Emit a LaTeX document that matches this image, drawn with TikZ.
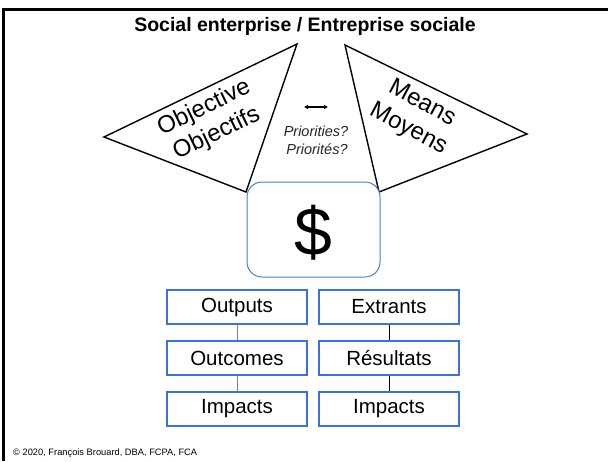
\documentclass[tikz,border=0pt]{standalone}
\usepackage{fontspec}
\setmainfont{Liberation Sans}
\usetikzlibrary{arrows.meta}
\definecolor{boxblue}{HTML}{3B6FE4}
\definecolor{dollarblue}{HTML}{4A7FD8}
\tikzset{
  tri/.style={draw=black, line width=1.4pt, line join=miter},
  outbox/.style={draw=boxblue, line width=2.6pt, minimum width=140pt, minimum height=34pt, inner sep=0pt, font=\fontsize{20.5}{24}\selectfont},
  trilabel/.style={align=center, inner sep=0pt, font=\fontsize{24}{28}\selectfont},
  prio/.style={inner sep=0pt, font=\fontsize{14.5}{17}\selectfont\itshape, text=black!85},
}
\begin{document}
\begin{tikzpicture}[x=1pt, y=-1pt]
\useasboundingbox[fill=white] (0,0) rectangle (608,461);
% frame
\coordinate (fTR) at (608,9.5);
\coordinate (fTL) at (3.5,9.5);
\coordinate (fBL) at (3.5,461);
\draw[line width=2.2pt, line join=miter] (fTR) -- (fTL) -- (fBL);
% title
\node[inner sep=0pt, font=\fontsize{19.5}{23}\selectfont\bfseries] (title) at (305,26) {Social enterprise / Entreprise sociale};
% triangles
\coordinate (lt) at (297,44);
\coordinate (ll) at (104,137);
\coordinate (lb) at (246,192);
\coordinate (rt) at (345,45);
\coordinate (rr) at (527,134);
\coordinate (rb) at (379,192);
\draw[tri] (lt) -- (ll) -- (lb) -- cycle;
\draw[tri] (rt) -- (rr) -- (rb) -- cycle;
\node[trilabel, rotate=25.7] (obj) at (210.5,121) {\fontsize{24}{28}\selectfont Objective\\[1pt]Objectifs};
\node[trilabel, rotate=-28] (means) at (415,116.5) {\fontsize{24}{28}\selectfont Means\\[1pt]Moyens};
% arrow and priorities
\coordinate (aL) at (304,107);
\coordinate (aR) at (328,107);
\draw[line width=1.3pt, {Latex[length=4pt,width=5pt]}-{Latex[length=4pt,width=5pt]}] (aL) -- (aR);
\node[prio] (p1) at (316,131) {Priorities?};
\node[prio] (p2) at (317,149) {Priorités?};
% dollar box
\node[draw=dollarblue, line width=1pt, rounded corners=15pt, fill=white, minimum width=133pt, minimum height=95pt, inner sep=0pt] (dbox) at (313.5,229.5) {};
\node[inner sep=0pt, font=\fontsize{68}{74}\selectfont] (dollar) at (313,233) {\$};
% boxes
\node[outbox] (o1) at (237,307) {Outputs};
\node[outbox] (o2) at (237,358) {Outcomes};
\node[outbox] (o3) at (237,409) {Impacts};
\node[outbox] (e1) at (389,307) {Extrants};
\node[outbox] (e2) at (389,358) {Résultats};
\node[outbox] (e3) at (389,409) {Impacts};
\draw[gray, line width=0.8pt] (o1) -- (o2);
\draw[gray, line width=0.8pt] (o2) -- (o3);
\draw[black, line width=0.8pt] (e1) -- (e2);
\draw[black, line width=0.8pt] (e2) -- (e3);
% copyright
\node[anchor=west, inner sep=0pt, font=\fontsize{9.3}{11}\selectfont] (copy) at (13,453) {© 2020, François Brouard, DBA, FCPA, FCA};
\end{tikzpicture}
\end{document}
